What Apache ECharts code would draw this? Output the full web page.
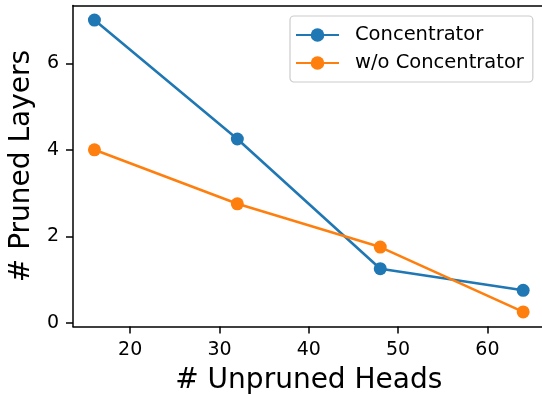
<!DOCTYPE html>
<html><head><meta charset="utf-8">
<script src="https://cdn.jsdelivr.net/npm/echarts@6/dist/echarts.min.js"></script>
<style>html,body{margin:0;padding:0;background:#fff}#c{width:542px;height:394px}</style>
</head><body><div id="c"></div>
<script>
const heads = [16, 32, 48, 64];
const concentrator = [7, 4.25, 1.25, 0.75];
const woConcentrator = [4, 2.75, 1.75, 0.25];
const xTicks = [20, 30, 40, 50, 60];
const yTicks = [0, 2, 4, 6];
const seriesNames = ['Concentrator', 'w/o Concentrator'];

const font = 'DejaVu Sans';
const chart = echarts.init(document.getElementById('c'), null, {renderer: 'canvas'});
function mk(name, vals, color) {
  return {
    name, type: 'line', data: heads.map((h, i) => [h, vals[i]]),
    symbol: 'circle', symbolSize: 13, color,
    lineStyle: {width: 2.6, color}, itemStyle: {color},
    animation: false
  };
}
const axLine = {show: true, onZero: false, lineStyle: {color: '#000', width: 1.5}};
chart.setOption({
  animation: false,
  backgroundColor: '#fff',
  grid: {left: 73, top: 5.5, right: -2.6, bottom: 67.5, show: false, outerBoundsMode: 'none', containLabel: false},
  xAxis: [{
    type: 'value', min: 13.6, max: 66.4,
    name: '# Unpruned Heads', nameLocation: 'middle', nameGap: 40,
    nameTextStyle: {fontFamily: font, fontSize: 28, color: '#000', verticalAlign: 'top'},
    splitLine: {show: false},
    axisLine: axLine,
    axisTick: {show: true, length: 7, customValues: xTicks, lineStyle: {color: '#000', width: 1.5}},
    axisLabel: {customValues: xTicks, fontFamily: font, fontSize: 19, color: '#000', margin: 14}
  }, {
    type: 'value', position: 'top', min: 13.6, max: 66.4,
    splitLine: {show: false}, axisLine: axLine,
    axisTick: {show: false}, axisLabel: {show: false}
  }],
  yAxis: {
    type: 'value', min: -0.0875, max: 7.3375,
    name: '# Pruned Layers', nameLocation: 'middle', nameGap: 37,
    nameTextStyle: {fontFamily: font, fontSize: 28, color: '#000'},
    splitLine: {show: false},
    axisLine: axLine,
    axisTick: {show: true, length: 7, customValues: yTicks, lineStyle: {color: '#000', width: 1.5}},
    axisLabel: {customValues: yTicks, fontFamily: font, fontSize: 19, color: '#000', margin: 14}
  },
  legend: {
    orient: 'vertical', left: 290, top: 16,
    data: seriesNames,
    itemWidth: 43, itemHeight: 17, itemGap: 8,
    padding: [9, 9, 9, 5],
    borderColor: '#cccccc', borderWidth: 1.2, borderRadius: 4,
    backgroundColor: 'rgba(255,255,255,0.8)',
    textStyle: {fontFamily: font, fontSize: 19.5, color: '#000', padding: [0, 0, 0, 11]}
  },
  series: [mk(seriesNames[0], concentrator, '#1f77b4'), mk(seriesNames[1], woConcentrator, '#ff7f0e')]
});
</script></body></html>
